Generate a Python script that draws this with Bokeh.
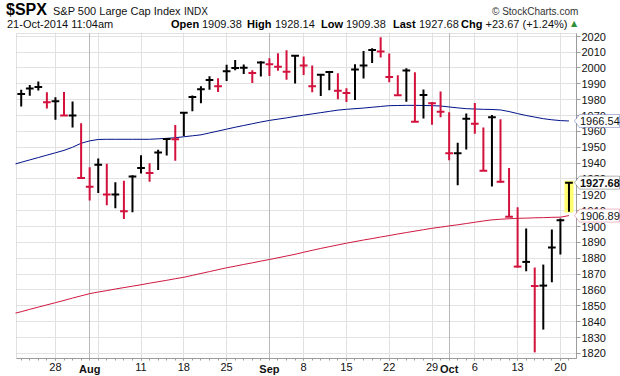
from bokeh.plotting import figure
from bokeh.layouts import column
from bokeh.models import (Range1d, FixedTicker, Grid, Label, LinearAxis, BoxAnnotation,
                          PolyAnnotation, ColumnDataSource, Div)
from bokeh.embed import file_html
from bokeh.resources import INLINE

# ---------------- data ----------------
days = ["2014-07-22", "2014-07-23", "2014-07-24", "2014-07-25",
        "2014-07-28", "2014-07-29", "2014-07-30", "2014-07-31", "2014-08-01",
        "2014-08-04", "2014-08-05", "2014-08-06", "2014-08-07", "2014-08-08",
        "2014-08-11", "2014-08-12", "2014-08-13", "2014-08-14", "2014-08-15",
        "2014-08-18", "2014-08-19", "2014-08-20", "2014-08-21", "2014-08-22",
        "2014-08-25", "2014-08-26", "2014-08-27", "2014-08-28", "2014-08-29",
        "2014-09-02", "2014-09-03", "2014-09-04", "2014-09-05",
        "2014-09-08", "2014-09-09", "2014-09-10", "2014-09-11", "2014-09-12",
        "2014-09-15", "2014-09-16", "2014-09-17", "2014-09-18", "2014-09-19",
        "2014-09-22", "2014-09-23", "2014-09-24", "2014-09-25", "2014-09-26",
        "2014-09-29", "2014-09-30", "2014-10-01", "2014-10-02", "2014-10-03",
        "2014-10-06", "2014-10-07", "2014-10-08", "2014-10-09", "2014-10-10",
        "2014-10-13", "2014-10-14", "2014-10-15", "2014-10-16", "2014-10-17",
        "2014-10-20", "2014-10-21"]

highs = [1986.24, 1989.23, 1991.39, 1984.60, 1981.52, 1984.85, 1978.90, 1965.14, 1937.35,
         1942.92, 1939.65, 1927.91, 1928.89, 1932.38, 1944.90, 1939.86, 1948.41, 1955.23,
         1964.04, 1971.99, 1982.57, 1988.40, 1994.76, 1993.54, 2001.95, 2005.04, 2002.14,
         1998.55, 2004.28, 2006.12, 2009.28, 2011.17, 2007.71, 2007.17, 2001.56, 1995.79,
         1997.65, 1996.66, 1987.18, 2002.33, 2010.74, 2012.34, 2019.26, 2009.08, 1995.41,
         1999.79, 1997.32, 1986.37, 1978.48, 1985.17, 1971.99, 1952.86, 1971.19, 1977.84,
         1962.36, 1970.36, 1967.68, 1936.98, 1912.09, 1898.71, 1874.14, 1876.01, 1898.16,
         1905.03, 1928.14]

lows = [1975.65, 1982.44, 1985.79, 1974.37, 1967.31, 1969.95, 1962.42, 1930.67, 1916.37,
        1921.20, 1913.34, 1911.45, 1904.78, 1909.01, 1933.43, 1928.29, 1935.60, 1944.82,
        1941.50, 1957.10, 1972.72, 1977.68, 1986.25, 1984.76, 1991.74, 1998.59, 1996.20,
        1990.52, 1994.65, 1994.85, 1998.14, 1992.57, 1990.10, 1995.60, 1984.61, 1982.26,
        1985.93, 1980.26, 1978.48, 1979.84, 1993.29, 2003.07, 2006.59, 1991.01, 1982.77,
        1978.63, 1965.99, 1968.04, 1964.14, 1968.96, 1941.72, 1926.03, 1948.51, 1958.43,
        1935.10, 1925.25, 1927.56, 1906.05, 1874.14, 1871.79, 1820.66, 1835.02, 1864.85,
        1882.30, 1909.38]

closes = [1983.53, 1987.01, 1987.98, 1978.34, 1978.91, 1969.95, 1970.07, 1930.67, 1925.15,
          1938.99, 1920.21, 1920.24, 1909.57, 1931.59, 1936.92, 1933.75, 1946.72, 1955.18,
          1955.06, 1971.74, 1981.60, 1986.51, 1992.37, 1988.40, 1997.92, 2000.02, 2000.12,
          1996.74, 2003.37, 2002.28, 2000.72, 1997.65, 2007.71, 2001.54, 1988.44, 1995.69,
          1997.45, 1985.54, 1984.13, 1998.98, 2001.57, 2011.36, 2010.40, 1994.29, 1982.77,
          1998.30, 1965.99, 1982.85, 1977.80, 1972.29, 1946.16, 1946.17, 1967.90, 1964.82,
          1935.10, 1968.89, 1928.21, 1906.13, 1874.74, 1877.70, 1862.49, 1862.76, 1886.76,
          1904.01, 1927.68]

# moving averages, one reading per day starting one day before the first bar
ma_days = list(range(-1, len(days)))
sma50 = [1939.0, 1940.5, 1942.0, 1943.5, 1945.0, 1946.5, 1948.0, 1950.0, 1952.5, 1954.0,
         1954.9, 1955.0, 1955.0, 1955.0, 1955.0, 1955.0, 1955.0, 1955.3, 1955.6, 1956.0,
         1956.6, 1957.2, 1957.8, 1959.0, 1960.2, 1961.4, 1962.6, 1963.7, 1964.8, 1965.9,
         1966.9, 1967.7, 1968.5, 1969.4, 1970.2, 1971.0, 1971.8, 1972.6, 1973.4, 1973.9,
         1974.3, 1974.7, 1975.2, 1975.7, 1976.2, 1976.3, 1976.4, 1976.4, 1976.3, 1976.2,
         1976.0, 1975.4, 1974.8, 1974.3, 1974.1, 1973.9, 1973.8, 1973.5, 1972.5, 1971.2,
         1970.0, 1969.0, 1968.0, 1967.3, 1966.8, 1966.54]
sma200 = [1845.0, 1846.3, 1847.8, 1849.2, 1850.6, 1852.0, 1853.4, 1854.9, 1856.3, 1857.7,
          1858.7, 1859.6, 1860.6, 1861.5, 1862.4, 1863.3, 1864.3, 1865.2, 1866.1, 1867.1,
          1868.0, 1869.2, 1870.4, 1871.6, 1872.8, 1874.0, 1875.0, 1876.1, 1877.1, 1878.2,
          1879.2, 1880.3, 1881.4, 1882.5, 1883.8, 1885.0, 1886.2, 1887.3, 1888.4, 1889.5,
          1890.5, 1891.5, 1892.4, 1893.4, 1894.3, 1895.3, 1896.2, 1897.1, 1898.0, 1898.9,
          1899.6, 1900.4, 1901.1, 1901.9, 1902.7, 1903.5, 1904.2, 1904.6, 1904.9, 1905.2,
          1905.3, 1905.5, 1905.6, 1905.8, 1905.9, 1906.89]

# axis ticks
y_ticks = list(range(1820, 2030, 10))
tick_dates = ["2014-07-28", "2014-08-11", "2014-08-18", "2014-08-25", "2014-09-08",
              "2014-09-15", "2014-09-22", "2014-09-29", "2014-10-06", "2014-10-13", "2014-10-20"]
tick_labels = ["28", "11", "18", "25", "8", "15", "22", "29", "6", "13", "20"]
month_dates = ["2014-08-01", "2014-09-02", "2014-10-01"]
month_labels = ["Aug", "Sep", "Oct"]
week_grid_dates = ["2014-07-28", "2014-08-04", "2014-08-11", "2014-08-18", "2014-08-25",
                   "2014-09-08", "2014-09-15", "2014-09-22", "2014-09-29", "2014-10-06",
                   "2014-10-13", "2014-10-20"]

symbol = "$SPX"
name = "S&amp;P 500 Large Cap Index"
exchange = "INDX"
credit = "&copy; StockCharts.com"
stamp = "21-Oct-2014 11:04am"
quote_labels = ["Open", "High", "Low", "Last", "Chg"]
quote_values = ["1909.38", "1928.14", "1909.38", "1927.68", "+23.67 (+1.24%)"]

# ---------------- layout (page pixels, page origin at top-left) ----------------
RED = "#d2123c"
BLACK = "#000000"
NAVY = "#00138a"
MA_RED = "#cf1840"
BORDER = "#9c9c9c"
FONT = "Liberation Sans"

PAGE_W, PAGE_H = 620, 376
HEAD_H = 32
W = PAGE_W
H = PAGE_H - HEAD_H
FIG_TOP = HEAD_H
DL, DR, DT, DB = 16, 576, 33, 358       # data box edges on the page
FRAME_L = 15
X0, X1 = -0.55, 64.88
Y0, Y1 = 1816.8, 2021.7
ppx = (DR - DL) / (X1 - X0)
ppy = (DB - DT) / (Y1 - Y0)
XS = X0 - (DL - FRAME_L) / ppx
XE = X1 + (PAGE_W - DR) / ppx
YS = Y0 - (PAGE_H - DB) / ppy
YE = Y1 + (DT - FIG_TOP) / ppy


def dx(px):
    return X0 + (px - DL) / ppx


n = len(days)
idx = list(range(n))
colors = [BLACK if (i == 0 or closes[i] >= closes[i - 1]) else RED for i in idx]
pos = {d: i for i, d in enumerate(days)}

p = figure(width=W, height=H, x_range=Range1d(XS, XE), y_range=Range1d(YS, YE),
           y_axis_location="right", output_backend="svg", toolbar_location=None,
           min_border_left=FRAME_L, min_border_right=0, min_border_top=0,
           min_border_bottom=0)
p.outline_line_color = None
p.background_fill_color = "white"
p.border_fill_color = "white"


def style_axis(ax, bold=False):
    ax.major_label_text_font = FONT
    ax.major_label_text_font_size = "11px"
    ax.major_label_text_color = "#111111"
    ax.major_label_text_font_style = "bold" if bold else "normal"


# x axis (day numbers), drawn at the bottom of the data box
p.xaxis.ticker = FixedTicker(ticks=[pos[d] for d in tick_dates], minor_ticks=idx)
p.xaxis.major_label_overrides = {pos[d]: t for d, t in zip(tick_dates, tick_labels)}
p.xaxis.fixed_location = Y0
p.xaxis.bounds = (X0, X1)
p.xaxis.axis_line_color = BORDER
p.xaxis.major_tick_line_color = BORDER
p.xaxis.minor_tick_line_color = BORDER
p.xaxis.major_tick_in = 0
p.xaxis.major_tick_out = 2
p.xaxis.minor_tick_in = 0
p.xaxis.minor_tick_out = 2
p.xaxis.major_label_standoff = 2
style_axis(p.xaxis[0])

# month names, bold, on the same row
month_axis = LinearAxis(ticker=FixedTicker(ticks=[pos[d] for d in month_dates], minor_ticks=[]),
                        fixed_location=Y0,
                        major_label_overrides={pos[d]: t for d, t in zip(month_dates, month_labels)},
                        axis_line_color=None, major_tick_line_color=None,
                        minor_tick_line_color=None, major_tick_in=0, major_tick_out=2,
                        major_label_standoff=2)
style_axis(month_axis, bold=True)
p.add_layout(month_axis, "below")

# y axis drawn at the right edge of the data box
p.yaxis.ticker = FixedTicker(ticks=y_ticks, minor_ticks=[])
p.yaxis.fixed_location = X1
p.yaxis.bounds = (Y0, Y1)
p.yaxis.axis_line_color = BORDER
p.yaxis.major_tick_line_color = BORDER
p.yaxis.major_tick_in = 0
p.yaxis.major_tick_out = 4
p.yaxis.major_label_standoff = 1
style_axis(p.yaxis[0])

# grids
p.ygrid.ticker = FixedTicker(ticks=y_ticks, minor_ticks=[])
p.ygrid.grid_line_color = "#e2e2e2"
p.xgrid.ticker = FixedTicker(ticks=[pos[d] for d in week_grid_dates])
p.xgrid.grid_line_color = "#e0e0e0"
p.add_layout(Grid(dimension=0, ticker=FixedTicker(ticks=[pos[d] for d in month_dates]),
                  grid_line_color="#b8b8b8"))

# keep the margins outside the data box clean
for kw in (dict(left=X1), dict(bottom=Y1), dict(right=X0), dict(top=Y0)):
    p.add_layout(BoxAnnotation(fill_color="white", fill_alpha=1, line_color=None,
                               level="underlay", **kw))
p.add_layout(BoxAnnotation(left=X0, right=X1, bottom=Y0, top=Y1, fill_color=None,
                           line_color=BORDER, line_width=1, level="underlay"))

# highlight of the current bar
p.quad(left=[idx[-1] - 0.53], right=[idx[-1] + 0.53], bottom=[lows[-1] - 0.6],
       top=[highs[-1] + 0.8], fill_color="#ffff70", line_color=None)

# moving averages
p.line(ma_days, sma200, line_color=MA_RED, line_width=1)
p.line(ma_days, sma50, line_color=NAVY, line_width=1)

# HLC bars
src = ColumnDataSource(dict(x=idx, hi=highs, lo=lows, cl=closes,
                            xl=[i - 0.45 for i in idx], xr=[i + 0.45 for i in idx], c=colors))
p.segment(x0="x", y0="lo", x1="x", y1="hi", line_color="c", line_width=2, source=src)
p.segment(x0="xl", y0="cl", x1="xr", y1="cl", line_color="c", line_width=2, source=src)


def price_box(v, color, bold):
    h = 6.5 / ppy
    xs = [dx(DR - 2), dx(DR + 3), dx(DR + 43), dx(DR + 43), dx(DR + 3)]
    ys = [v, v + h, v + h, v - h, v - h]
    p.add_layout(PolyAnnotation(xs=xs, ys=ys, fill_color="white", fill_alpha=1.0,
                                line_color=color, line_width=1))
    p.add_layout(Label(x=dx(DR + 3.5), y=v, text=f"{v:.2f}", text_baseline="middle",
                       text_font=FONT, text_font_size="11px",
                       text_font_style="bold" if bold else "normal", text_color="#111111"))


price_box(sma50[-1], NAVY, False)
price_box(sma200[-1], MA_RED, False)
price_box(closes[-1], BLACK, True)

# ---------------- header ----------------


def span(text, left, baseline, size=11, bold=False, color="#111111",
         font="'Liberation Sans', Arial, sans-serif"):
    top = baseline - 0.8465 * size
    weight = "bold" if bold else "normal"
    return (f'<span style="position:absolute;left:{left}px;top:{top:.2f}px;'
            f'font-family:{font};font-size:{size}px;line-height:1;font-weight:{weight};'
            f'color:{color};white-space:nowrap;">{text}</span>')


parts = [span(symbol, 6, 15.5, size=16, bold=True, color="#000000"),
         span(name, 53, 15.5),
         span(exchange, 184, 15.5, size=10),
         span(credit, 492, 15.5, size=10, color="#333333"),
         span(stamp, 7, 28)]
label_x = [171, 247, 321, 393, 461]
value_x = [202, 275, 346, 419, 485.5]
for lt, vt, lx, vx in zip(quote_labels, quote_values, label_x, value_x):
    parts.append(span(lt, lx, 28, bold=True, color="#000000"))
    parts.append(span(vt, vx, 28))
parts.append(span("&#9650;", 571, 27, size=8, color="#2f8f3a", font="'DejaVu Sans', sans-serif"))

header = Div(text=f'<div style="position:relative;width:{W}px;height:{HEAD_H}px;overflow:visible;">'
                  + "".join(parts) + "</div>",
             width=W, height=HEAD_H, margin=0)

layout = column(header, p, spacing=0)
open("out.html", "w").write(file_html(layout, INLINE))
